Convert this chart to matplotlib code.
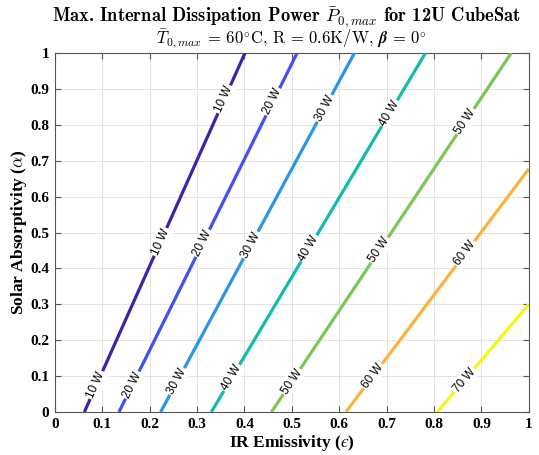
import matplotlib
matplotlib.use('Agg')
import matplotlib.pyplot as plt
import numpy as np

# Potenza dissipata (W) e punti estremi delle curve di livello
livelli = [10, 20, 30, 40, 50, 60, 70]
eps_base = [0.062, 0.135, 0.223, 0.330, 0.457, 0.614, 0.807]   # alpha = 0
eps_fine = [0.401, 0.511, 0.632, 0.782, 0.963, 1.0, 1.0]
alpha_fine = [1.0, 1.0, 1.0, 1.0, 1.0, 0.677, 0.300]
# posizione (alpha) delle etichette lungo ogni curva
alpha_etichette = [
    [0.075, 0.474, 0.871],
    [0.075, 0.470, 0.864],
    [0.085, 0.465, 0.846],
    [0.095, 0.456, 0.832],
    [0.085, 0.451, 0.809],
    [0.100, 0.442],
    [0.089],
]
colori = ['#3a25a6', '#4151f2', '#2b96e6', '#14b9b0', '#7cc653', '#fbb43a', '#f7f514']

plt.rcParams['font.family'] = ['Liberation Serif', 'DejaVu Serif']
plt.rcParams['mathtext.fontset'] = 'cm'

fig = plt.figure(figsize=(5.39, 4.55), dpi=100)
ax = fig.add_axes([0.102, 0.0945, 0.879, 0.789])

for lv, e0, e1, a1, etich, col in zip(livelli, eps_base, eps_fine, alpha_fine,
                                       alpha_etichette, colori):
    ax.plot([e0, e1], [0.0, a1], color=col, linewidth=2.3, zorder=3,
            solid_capstyle='butt')
    ang = np.degrees(np.arctan2(a1, e1 - e0))
    for a in etich:
        e = e0 + (e1 - e0) * a / a1
        ax.text(e, a, f'{lv} W', family=['Liberation Sans', 'DejaVu Sans'],
                fontsize=8.5, ha='center', va='center', rotation=ang,
                rotation_mode='anchor', transform_rotates_text=True,
                bbox=dict(facecolor='white', edgecolor='none', pad=1.0),
                zorder=4)

ax.set_xlim(0, 1)
ax.set_ylim(0, 1)
ax.set_xticks(np.arange(0, 1.01, 0.1))
ax.set_yticks(np.arange(0, 1.01, 0.1))
ax.set_xticklabels(['0'] + [f'{v:.1f}' for v in np.arange(0.1, 0.95, 0.1)] + ['1'])
ax.set_yticklabels(['0'] + [f'{v:.1f}' for v in np.arange(0.1, 0.95, 0.1)] + ['1'])
ax.tick_params(direction='in', top=True, right=True, length=4, color='#555555',
               labelsize=11, pad=4)
for lab in ax.get_xticklabels() + ax.get_yticklabels():
    lab.set_fontweight('bold')
ax.grid(True, color='#e3e3e3', linewidth=0.7)
ax.set_axisbelow(True)
for s in ax.spines.values():
    s.set_color('#555555')
    s.set_linewidth(0.8)

ax.set_xlabel('IR Emissivity ($\u03f5$)', fontsize=12.5, fontweight='bold', labelpad=2)
ax.set_ylabel(r'Solar Absorptivity ($\alpha$)', fontsize=12.5, fontweight='bold', labelpad=1)

fig.text(0.531, 0.962, r'Max. Internal Dissipation Power $\bar{P}_{0,max}$ for 12U CubeSat',
         ha='center', va='center', fontsize=13.3, family='cmb10')
fig.text(0.541, 0.913,
         r'$\bar{T}_{0,max}$ = 60$^{\circ}$C, R = 0.6K/W, $\boldsymbol{\beta}$ = $\mathbf{0}^{\circ}$',
         ha='center', va='center', fontsize=12, family='cmr10')

fig.savefig('out.png', dpi=100)
